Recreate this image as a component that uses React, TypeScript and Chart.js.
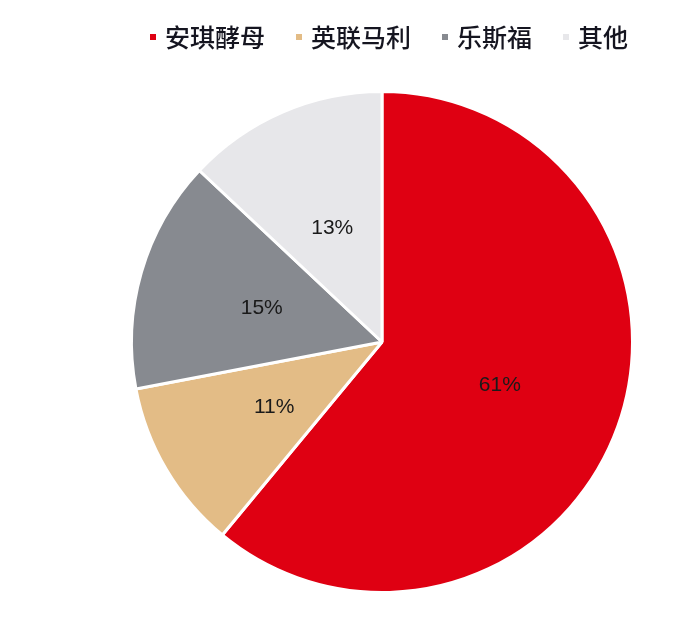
import { useEffect, useRef } from "react";
import { Chart, ArcElement, PieController, Plugin } from "chart.js";

Chart.register(ArcElement, PieController);

const companies = ["安琪酵母", "英联马利", "乐斯福", "其他"];
const shares = [61, 11, 15, 13];
const colors = ["#DF0012", "#E3BC86", "#878A90", "#E7E7EA"];

const legendPlugin: Plugin<"pie"> = {
  id: "topLegend",
  afterDraw(chart) {
    const ctx = chart.ctx;
    ctx.save();
    ctx.font = '500 25px "Noto Sans CJK SC", sans-serif';
    ctx.textBaseline = "middle";
    let x = 150;
    const y = 37;
    companies.forEach((name, i) => {
      ctx.fillStyle = colors[i];
      ctx.fillRect(x, y - 3, 6, 6);
      ctx.fillStyle = "#151520";
      ctx.fillText(name, x + 15, y);
      x += 15 + ctx.measureText(name).width + 31;
    });
    ctx.restore();
  }
};

const valueLabels: Plugin<"pie"> = {
  id: "valueLabels",
  afterDatasetsDraw(chart) {
    const ctx = chart.ctx;
    const meta = chart.getDatasetMeta(0);
    ctx.save();
    ctx.font = '21px "Liberation Sans", Arial, sans-serif';
    ctx.fillStyle = "#1a1a1a";
    ctx.textAlign = "center";
    ctx.textBaseline = "middle";
    meta.data.forEach((arc, i) => {
      const p = (arc as ArcElement).getCenterPoint();
      ctx.fillText(`${shares[i]}%`, p.x, p.y + 1);
    });
    ctx.restore();
  }
};

export default function App() {
  const canvasRef = useRef<HTMLCanvasElement | null>(null);

  useEffect(() => {
    document.body.style.margin = "0";
    if (!canvasRef.current) return;

    const chart = new Chart(canvasRef.current, {
      type: "pie",
      data: {
        labels: companies,
        datasets: [
          {
            data: shares,
            backgroundColor: colors,
            borderColor: "#ffffff",
            borderWidth: 3
          }
        ]
      },
      options: {
        responsive: true,
        maintainAspectRatio: false,
        animation: false,
        layout: { padding: { left: 130, right: 64, top: 90, bottom: 24 } },
        plugins: {
          legend: { display: false },
          tooltip: { enabled: false }
        }
      },
      plugins: [valueLabels, legendPlugin]
    });

    return () => chart.destroy();
  }, []);

  return (
    <div style={{ position: "relative", width: 698, height: 618, background: "#fff" }}>
      <canvas ref={canvasRef} />
    </div>
  );
}
